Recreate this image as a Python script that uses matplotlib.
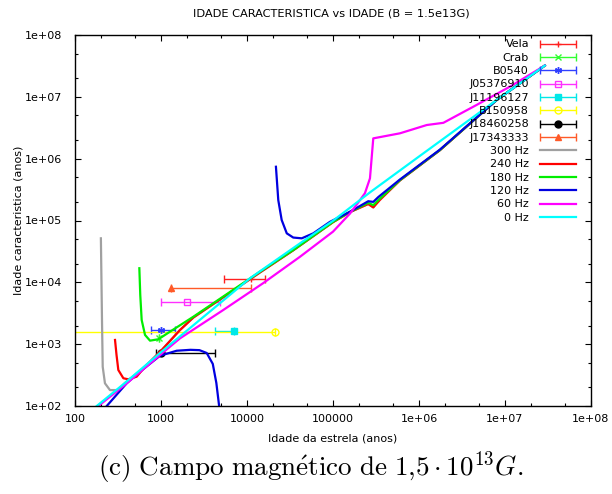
import numpy as np
import matplotlib
matplotlib.use("Agg")
import matplotlib.pyplot as plt
from matplotlib.ticker import LogLocator, FuncFormatter, NullFormatter
from matplotlib.container import ErrorbarContainer
from matplotlib.legend_handler import HandlerErrorbar

plt.rcParams['mathtext.fontset'] = 'cm'

# pulsares observados: idade real (com intervalo) e idade caracteristica
nomes = ["Vela", "Crab", "B0540", "J05376910", "J11196127", "B150958", "J18460258", "J17343333"]
idade = [11000, 955, 1000, 2000, 7100, 21000, 1000, 1300]
idade_min = [5400, 955, 760, 1000, 4200, 10, 870, 1300]
idade_max = [16000, 955, 1450, 4900, 7100, 21000, 4300, 11000]
tau_obs = [11300, 1240, 1690, 4860, 1630, 1555, 711, 8100]

# curvas teoricas (idade, idade caracteristica)
t_300 = [200, 206, 210, 223, 255, 319, 381, 652, 1020, 1660, 2380, 14200, 34500,
         1.0e5, 1.58e5, 2.57e5, 2.94e5, 3.4e5, 6.0e5, 1.75e6, 8.0e6, 2.9e7]
tau_300 = [51500, 2460, 431, 233, 181, 181, 236, 431, 804, 1690, 2700, 14500, 33000,
           9.4e4, 1.37e5, 1.85e5, 1.63e5, 2.14e5, 4.45e5, 1.37e6, 8.9e6, 3.2e7]

t_240 = [292, 304, 319, 365, 417, 521, 652, 1020, 1660, 2380, 14200, 34500,
         1.0e5, 1.58e5, 2.57e5, 2.94e5, 3.5e5, 6.0e5, 1.75e6, 8.0e6, 2.9e7]
tau_240 = [1170, 668, 382, 281, 270, 298, 431, 804, 1690, 2700, 14500, 33000,
           9.4e4, 1.37e5, 1.85e5, 1.63e5, 2.14e5, 4.45e5, 1.37e6, 8.9e6, 3.2e7]

t_180 = [560, 574, 596, 652, 745, 931, 1270, 2380, 14200, 34500,
         1.0e5, 1.58e5, 2.57e5, 2.94e5, 3.37e5, 6.0e5, 1.75e6, 8.0e6, 2.9e7]
tau_180 = [16900, 6240, 2460, 1410, 1140, 1200, 1590, 2780, 14900, 33300,
           9.5e4, 1.38e5, 1.93e5, 1.77e5, 2.14e5, 4.5e5, 1.38e6, 8.9e6, 3.2e7]

t_120a = [234, 399, 570, 973, 1520, 2200, 2800, 3400, 4000, 4400, 4750]
tau_120a = [100, 233, 358, 650, 783, 810, 800, 720, 480, 236, 98]
t_120b = [21700, 23100, 25300, 29000, 34500, 43300, 59000, 9.2e4, 1.58e5, 2.57e5,
          2.94e5, 3.37e5, 6.0e5, 1.75e6, 8.0e6, 2.9e7]
tau_120b = [7.4e5, 2.14e5, 1.02e5, 6.2e4, 5.3e4, 5.15e4, 6.2e4, 9.5e4, 1.39e5, 2.05e5,
            2.0e5, 2.4e5, 4.6e5, 1.4e6, 8.9e6, 3.2e7]

t_60 = [187, 381, 973, 1660, 5300, 15500, 41300, 1.0e5, 1.58e5, 2.06e5, 2.35e5, 2.69e5,
        2.94e5, 6.0e5, 1.23e6, 1.92e6, 4.68e6, 1.14e7, 2.9e7]
tau_60 = [100, 220, 668, 1240, 3570, 9750, 25900, 6.6e4, 1.3e5, 2.14e5, 2.76e5, 4.8e5,
          2.13e6, 2.57e6, 3.5e6, 3.8e6, 7.4e6, 1.46e7, 3.2e7]

t_0 = [179, 381, 973, 10800, 41300, 1.0e5, 2.7e5, 9.7e5, 8.0e6, 2.9e7]
tau_0 = [100, 236, 720, 11600, 42700, 9.9e4, 2.86e5, 1.05e6, 8.9e6, 3.2e7]

ticks_maiores = [1e2, 1e3, 1e4, 1e5, 1e6, 1e7, 1e8]

cores_obs = ['#ff2020', '#30ff30', '#3040ff', '#ff30ff', '#00e8e8', '#ffff00', '#000000', '#ff5a28']
marcadores = ['+', 'x', (6, 2, 0), 's', 's', 'o', 'o', '^']
vazio = [False, False, False, True, False, True, False, False]

fig = plt.figure(figsize=(6.12, 4.94), dpi=100)
ax = fig.add_axes([75 / 612, 88 / 494, 516 / 612, 371 / 494])

h_obs = []
for i in range(len(nomes)):
    x = idade[i]
    erro = [[x - idade_min[i]], [idade_max[i] - x]]
    h = ax.errorbar([x], [tau_obs[i]], xerr=erro, marker=marcadores[i], linestyle='none',
                    color=cores_obs[i], ms=5, mew=1, capsize=3, elinewidth=1, zorder=1.5,
                    mfc='none' if vazio[i] else cores_obs[i], label=nomes[i])
    h_obs.append(h)

lw = 1.6
h_curvas = []
h_curvas += ax.plot(t_300, tau_300, color='#a0a0a0', lw=lw, label='300 Hz')
h_curvas += ax.plot(t_240, tau_240, color='#ff0000', lw=lw, label='240 Hz')
h_curvas += ax.plot(t_180, tau_180, color='#00ee00', lw=lw, label='180 Hz')
h_curvas += ax.plot(t_120a, tau_120a, color='#0000e0', lw=lw, label='120 Hz')
ax.plot(t_120b, tau_120b, color='#0000e0', lw=lw)
h_curvas += ax.plot(t_60, tau_60, color='#ff00ff', lw=lw, label='60 Hz')
h_curvas += ax.plot(t_0, tau_0, color='#00ffff', lw=lw, label='0 Hz')

ax.set_xscale('log')
ax.set_yscale('log')
ax.set_xlim(100, 1e8)
ax.set_ylim(100, 1e8)
ax.set_xticks(ticks_maiores)
ax.set_yticks(ticks_maiores)
for eixo in (ax.xaxis, ax.yaxis):
    eixo.set_minor_locator(LogLocator(base=10, subs=(2, 5), numticks=10))
    eixo.set_minor_formatter(NullFormatter())
ax.xaxis.set_major_formatter(FuncFormatter(lambda v, p: f'{v:g}'))
ax.yaxis.set_major_formatter(FuncFormatter(lambda v, p: f'{v:.0e}'))
ax.tick_params(which='both', direction='in', top=True, right=True, labelsize=8, width=0.8)
ax.tick_params(which='major', length=4.5)
ax.tick_params(which='minor', length=2.5)
ax.tick_params(axis='x', pad=6)
ax.tick_params(axis='y', pad=9)
for s in ax.spines.values():
    s.set_linewidth(1.0)

ax.set_xlabel('Idade da estrela (anos)', fontsize=8)
ax.xaxis.set_label_coords(0.5, -0.075)
ax.set_ylabel('Idade caracteristica (anos)', fontsize=8)
ax.yaxis.set_label_coords(-0.1, 0.5)

fig.text(0.541, 0.972, 'IDADE CARACTERISTICA vs IDADE (B = 1.5e13G)', fontsize=8.2,
         ha='center', va='center')

handles = h_obs + h_curvas
ax.legend(handles, [h.get_label() for h in handles], loc='upper right',
          bbox_to_anchor=(0.979, 1.0), borderaxespad=0, frameon=False, markerfirst=False,
          fontsize=8, handlelength=3.2, handletextpad=1.0, labelspacing=0.3,
          handler_map={ErrorbarContainer: HandlerErrorbar(xerr_size=1.6)})

fig.text(0.508, 0.054, r'$\mathrm{(c)\ Campo\ magn\acute{e}tico\ de\ }1{,}5\cdot 10^{13}G.$',
         fontsize=19.5, ha='center', va='center')

fig.savefig('out.png', dpi=100)
